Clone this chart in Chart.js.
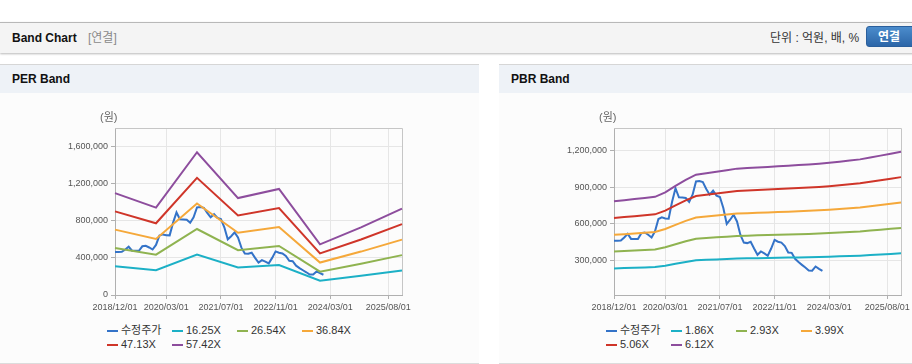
<!DOCTYPE html>
<html><head><meta charset="utf-8">
<script src="https://cdn.jsdelivr.net/npm/chart.js@4/dist/chart.umd.min.js"></script>
<style>
html,body{margin:0;padding:0;}
body{width:912px;height:364px;overflow:hidden;position:relative;background:#fff;font-family:"Liberation Sans",Arial,"Noto Sans CJK KR",sans-serif;}
.topbar{position:absolute;left:0;top:22px;width:1000px;height:30px;background:#f4f4f4;border-top:1px solid #b8b8b8;box-shadow:0 1px 2px rgba(0,0,0,0.28);}
.ttl{position:absolute;left:12px;top:0;line-height:30px;font-size:12px;font-weight:bold;color:#111;}
.sub{position:absolute;left:88px;top:0;line-height:30px;font-size:12px;color:#8a8a8a;}
.unit{position:absolute;left:770px;top:0;line-height:30px;font-size:12px;color:#333;}
.btn{position:absolute;left:866px;top:3px;width:50px;height:21px;line-height:21px;border-radius:3px;background:linear-gradient(#4b8ccc,#2c66a8);color:#fff;font-weight:bold;font-size:12px;text-align:center;box-sizing:border-box;border:1px solid #2a5f9c;padding-right:4px;}
.panel{position:absolute;top:64px;width:479px;height:298px;border-top:1px solid #d6d6d6;border-bottom:1px solid #dcdcdc;background:#fcfcfc;}
.phead{height:28px;line-height:28px;background:#eef2f7;font-size:12px;font-weight:bold;color:#111;padding-left:12px;}
canvas{position:absolute;left:0;top:28px;}
.legend{position:absolute;left:107px;top:258px;width:270px;font-size:11px;line-height:14px;color:#333;}
.li{display:inline-block;width:65px;position:relative;height:14px;vertical-align:top;white-space:nowrap;}
.sw{position:absolute;left:0;top:7px;width:11px;height:2px;}
.lt{position:absolute;left:14px;top:0;}
</style></head>
<body>
<div class="topbar">
  <div class="ttl">Band Chart</div>
  <div class="sub">[연결]</div>
  <div class="unit">단위 : 억원, 배, %</div>
  <div class="btn">연결</div>
</div>
<div class="panel" style="left:0"><div class="phead">PER Band</div><canvas id="per" width="479" height="230"></canvas><div class="legend" id="perLeg"></div></div>
<div class="panel" style="left:499px"><div class="phead">PBR Band</div><canvas id="pbr" width="479" height="230"></canvas><div class="legend" id="pbrLeg"></div></div>
<script>
// monthly categories 2018/12 .. 2025/12
const months = [];
for (let i = 0; i < 85; i++) {
  const m = 11 + i, y = 2018 + Math.floor(m / 12), mm = (m % 12) + 1;
  months.push(y + '/' + String(mm).padStart(2, '0') + '/01');
}
const xTickIdx = [0, 15, 31, 47, 63, 80];

// adjusted close (수정주가), monthly from 2018/12
const price = [463000,463000,465000,490000,520000,478000,477000,477000,525000,530000,512000,490000,
  540000,640000,653000,645000,643000,780000,890000,817000,815000,811000,779000,838000,
  945000,948000,940000,884000,838000,871000,830000,819000,730000,600000,634000,675000,
  620000,510000,448000,444000,455000,400000,349000,376000,360000,341000,400000,470000,
  455000,448000,420000,368000,365000,316000,290000,267000,245000,221000,220000,254000,
  235000,218000];

// PER bands, yearly points (every 12 months from 2018/12)
const perLabels = ['16.25X','26.54X','36.84X','47.13X','57.42X'];
const per16 = [310700, 266500, 435500, 295800, 323400, 154400, 206400, 263300];
const per26 = [507400, 435300, 711300, 483000, 528100, 252100, 337100, 429900];
const per36 = [704400, 604200, 987300, 670500, 733100, 350000, 467900, 596800];
const per47 = [901100, 772900, 1263100, 857800, 937900, 447700, 598600, 763500];
const per57 = [1097900, 941700, 1538900, 1045000, 1142700, 545500, 729200, 930200];

// PBR bands, quarterly points (every 3 months from 2018/12)
const pbrLabels = ['1.86X','2.93X','3.99X','5.06X','6.12X'];
const pbr1 = [238300,240900,243700,246500,249200,260400,276200,291100,304100,307800,311600,315300,319000,320500,321800,323300,324800,326200,327700,329200,331100,333500,336300,339100,341900,346300,351200,355800,360500];
const pbr2 = [375300,379400,383800,388200,392600,410200,435100,458500,479100,484900,490800,496600,502500,504800,506900,509200,511600,513900,516300,518600,521500,525300,529700,534100,538500,545600,553200,560500,567800];
const pbr3 = [511100,516700,522700,528700,534700,558600,592500,624400,652400,660300,668300,676300,684300,687500,690300,693500,696700,699800,703000,706200,710200,715400,721400,727400,733400,742900,753300,763300,773300];
const pbr5 = [648200,655300,662900,670500,678000,708400,751400,791900,827300,837400,847600,857700,867800,871800,875400,879400,883500,887500,891600,895600,900700,907300,914800,922400,930000,942200,955300,968000,980600];
const pbr6 = [784000,792500,801700,810900,820100,856800,908800,957800,1000600,1012900,1025100,1037300,1049600,1054500,1058800,1063700,1068600,1073400,1078300,1083200,1089400,1097300,1106500,1115700,1124900,1139500,1155500,1170800,1186100];

const perYTicks = [0, 400000, 800000, 1200000, 1600000];
const pbrYTicks = [300000, 600000, 900000, 1200000];

const priceLabel = '수정주가';
const colors = ['#3473c8', '#1cb0c6', '#8fb350', '#f5a83a', '#cf3529', '#8d4d9d'];

function place(vals, step) {
  const a = new Array(months.length).fill(null);
  vals.forEach((v, i) => { a[i * step] = v; });
  return a;
}

const framePlugin = {
  id: 'frame',
  beforeDatasetsDraw(chart) {
    const { ctx, chartArea: a } = chart;
    ctx.save();
    ctx.strokeStyle = '#c6c6c6';
    ctx.lineWidth = 1;
    ctx.beginPath();
    ctx.moveTo(a.left, Math.round(a.top) + 0.5);
    ctx.lineTo(Math.round(a.right) + 0.5, Math.round(a.top) + 0.5);
    ctx.lineTo(Math.round(a.right) + 0.5, a.bottom);
    ctx.stroke();
    ctx.restore();
  },
  afterDraw(chart) {
    const { ctx, chartArea: a } = chart;
    ctx.save();
    ctx.fillStyle = '#666';
    ctx.font = '11px "Liberation Sans", "Noto Sans CJK KR", sans-serif';
    ctx.textBaseline = 'middle';
    ctx.fillText('(원)', a.left - 15, a.top - 10);
    ctx.restore();
  }
};

function makeChart(id, bandLabels, bands, step, yMin, yMax, yTicks) {
  const datasets = [{
    label: priceLabel, data: price, borderColor: colors[0], backgroundColor: colors[0],
    borderWidth: 2, pointRadius: 0, tension: 0, order: 1
  }];
  bands.forEach((b, i) => datasets.push({
    label: bandLabels[i], data: place(b, step), borderColor: colors[i + 1], backgroundColor: colors[i + 1],
    borderWidth: 2, pointRadius: 0, tension: 0, spanGaps: true, order: 0
  }));
  return new Chart(document.getElementById(id), {
    type: 'line',
    data: { labels: months, datasets },
    plugins: [framePlugin],
    options: {
      responsive: false, animation: false, devicePixelRatio: 1,
      layout: { padding: { top: 35, right: 77, left: 0, bottom: 0 } },
      plugins: { legend: { display: false }, tooltip: { enabled: false } },
      scales: {
        x: {
          afterFit: s => { s.height = 28; },
          afterBuildTicks: s => { s.ticks = xTickIdx.map(v => ({ value: v })); },
          grid: { color: '#e6e6e6', tickColor: '#b0b0b0', tickLength: 4 },
          border: { color: '#b0b0b0' },
          ticks: { autoSkip: false, maxRotation: 0, minRotation: 0, padding: 3, color: '#555',
            font: { family: '"Liberation Sans", Arial, sans-serif', size: 9 } }
        },
        y: {
          min: yMin, max: yMax,
          afterFit: s => { s.width = 115; },
          afterBuildTicks: s => { s.ticks = yTicks.map(v => ({ value: v })); },
          grid: { color: '#e6e6e6', tickColor: '#b0b0b0', tickLength: 4 },
          border: { color: '#b0b0b0' },
          ticks: { padding: 3, color: '#555', font: { family: '"Liberation Sans", Arial, sans-serif', size: 9 },
            callback: v => Number(v).toLocaleString('en-US') }
        }
      }
    }
  });
}

makeChart('per', perLabels, [per16, per26, per36, per47, per57], 12, 0, 1800000, perYTicks);
makeChart('pbr', pbrLabels, [pbr1, pbr2, pbr3, pbr5, pbr6], 3, 22000, 1380000, pbrYTicks);

function legend(id, bandLabels) {
  const el = document.getElementById(id);
  [priceLabel].concat(bandLabels).forEach((t, i) => {
    const d = document.createElement('div');
    d.className = 'li';
    d.innerHTML = '<span class="sw" style="background:' + colors[i] + '"></span><span class="lt">' + t + '</span>';
    el.appendChild(d);
  });
}
legend('perLeg', perLabels);
legend('pbrLeg', pbrLabels);
</script>
</body></html>
